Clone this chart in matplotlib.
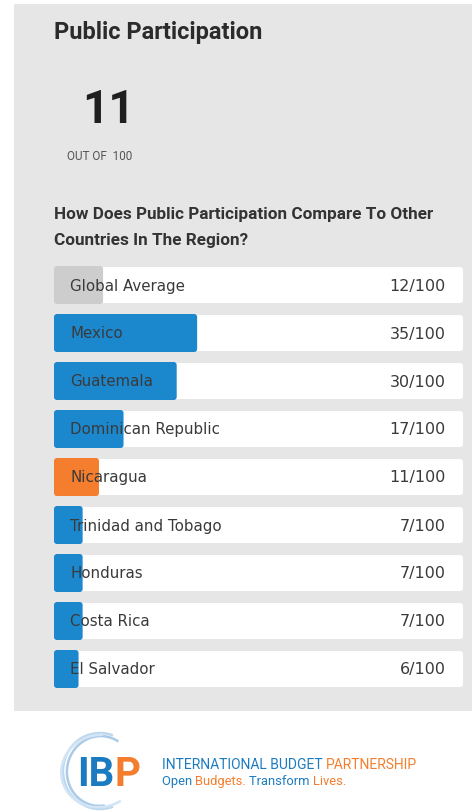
import matplotlib.pyplot as plt
from matplotlib.patches import FancyBboxPatch, Rectangle, Arc

plt.rcParams['font.family'] = ['Roboto', 'DejaVu Sans']

countries = ['Global Average', 'Mexico', 'Guatemala', 'Dominican Republic', 'Nicaragua',
             'Trinidad and Tobago', 'Honduras', 'Costa Rica', 'El Salvador']
scores = [12, 35, 30, 17, 11, 7, 7, 7, 6]
bar_colors = ['#cdcdcd', '#1b87cd', '#1b87cd', '#1b87cd', '#f47e2e',
              '#1b87cd', '#1b87cd', '#1b87cd', '#1b87cd']
country_score = 11
max_score = 100

W, H = 472, 812
fig = plt.figure(figsize=(W / 100, H / 100), dpi=100)
fig.patch.set_facecolor('white')

# background layer in pixel coordinates
bg = fig.add_axes([0, 0, 1, 1])
bg.set_xlim(0, W)
bg.set_ylim(H, 0)
bg.axis('off')
bg.add_patch(Rectangle((14, 5), W - 14, 707, facecolor='#e6e6e6', edgecolor='none'))

renderer = fig.canvas.get_renderer()


def colored_line(x, y, parts, **kw):
    # lay text pieces end to end, each in its own colour
    for s, c in parts:
        t = bg.text(x, y, s, color=c, va='center', ha='left', **kw)
        ext = t.get_window_extent(renderer)
        x += ext.width
    return x


bg.text(54, 33, 'Public Participation', fontsize=17, fontweight='bold',
        color='#2b2b2b', va='center', ha='left')
bg.text(82, 110, str(country_score), fontsize=33, fontweight='bold',
        color='#1f1f1f', va='center', ha='left')
bg.text(67, 156, 'OUT OF  100', fontsize=8.5, color='#555555', va='center', ha='left')
bg.text(54, 214, 'How Does Public Participation Compare To Other', fontsize=12.3,
        fontweight='bold', color='#333333', va='center', ha='left')
bg.text(54, 240, 'Countries In The Region?', fontsize=12.3,
        fontweight='bold', color='#333333', va='center', ha='left')

# IBP logo
for w, h, a, c in [(74, 76, 0, '#bcd7ee'), (66, 70, 12, '#a9cbe8'), (78, 72, -15, '#d3e5f4')]:
    bg.add_patch(Arc((100, 772), w, h, angle=a, theta1=70, theta2=290, color=c, lw=1.8))
colored_line(77, 775, [('IB', '#1b7bc0'), ('P', '#f47e2e')], fontsize=29, fontweight='bold')
colored_line(162, 765, [('INTERNATIONAL BUDGET ', '#1b7bc0'), ('PARTNERSHIP', '#f47e2e')],
             fontsize=10)
colored_line(162, 782, [('Open ', '#1b7bc0'), ('Budgets. ', '#f47e2e'),
                        ('Transform ', '#1b7bc0'), ('Lives.', '#f47e2e')], fontsize=9.3)

# bar rows
x0, x1 = 54, 463
row_px = 48
top_px = 262
n = len(countries)
ax = fig.add_axes([x0 / W, (H - top_px - n * row_px) / H, (x1 - x0) / W, n * row_px / H])
ax.set_xlim(0, max_score)
ax.set_ylim(n - 0.5, -0.5)
ax.axis('off')

px_x = (x1 - x0) / max_score
aspect = px_x / row_px
r = 3 / px_x

for i, (name, val, col) in enumerate(zip(countries, scores, bar_colors)):
    hw = 36 / row_px
    ax.add_patch(FancyBboxPatch((0, i - hw / 2), max_score, hw,
                                boxstyle=f'round,pad=0,rounding_size={r}',
                                mutation_aspect=aspect, facecolor='white',
                                edgecolor='none', zorder=1))
    hb = 38 / row_px
    ax.add_patch(FancyBboxPatch((0, i - hb / 2), val, hb,
                                boxstyle=f'round,pad=0,rounding_size={r}',
                                mutation_aspect=aspect, facecolor=col,
                                edgecolor='none', zorder=2))
    ax.text(16 / px_x, i, name, fontsize=10.8, family=['DejaVu Sans'], color='#3a3a3a',
            va='center', ha='left', zorder=3)
    ax.text(max_score - 17 / px_x, i, f'{val}/{max_score}', fontsize=11.5,
            family=['DejaVu Sans'], color='#3a3a3a', va='center', ha='right', zorder=3)

fig.savefig('out.png', dpi=100)
